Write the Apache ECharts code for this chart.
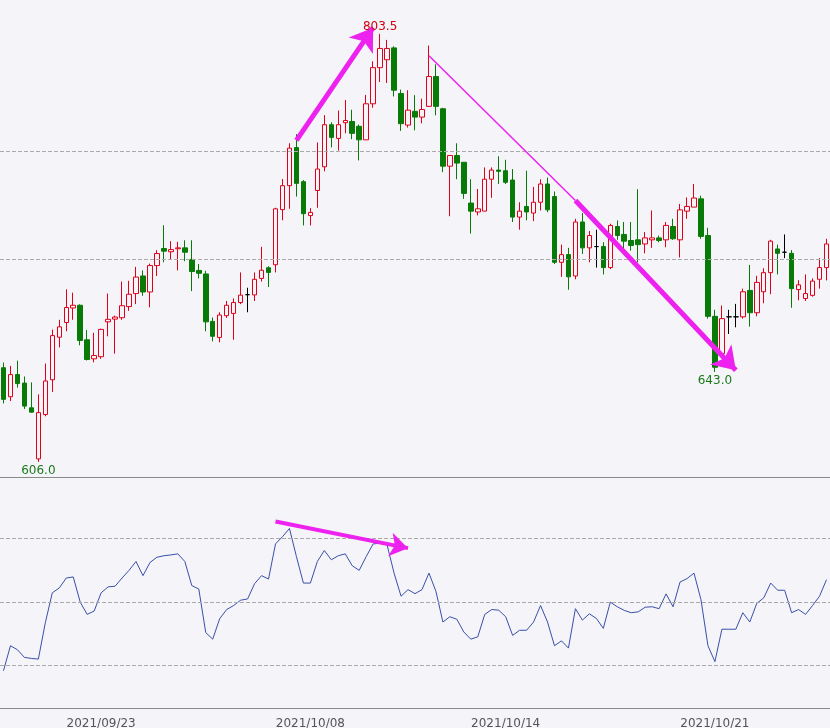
<!DOCTYPE html>
<html>
<head>
<meta charset="utf-8">
<script src="https://cdn.jsdelivr.net/npm/echarts@6/dist/echarts.min.js"></script>
<style>
	html, body { margin: 0; padding: 0; background: #f4f4f9; }
	#chart { width: 830px; height: 728px; }
</style>
</head>
<body>
<div id="chart"></div>
<script>
// [open, close, low, high]
const candles = [
	[644.8,631.5,629.8,647.0],[632.6,641.9,630.8,645.6],[641.9,638.1,636.4,647.8],[638.3,628.7,627.5,641.1],
	[628.0,626.2,626.0,638.6],[607.2,626.0,606.0,633.6],[625.2,639.2,624.5,646.6],[639.7,658.6,634.6,661.2],
	[657.9,662.4,653.5,665.5],[664.3,670.9,660.5,679.0],[670.7,671.9,665.5,677.5],[671.9,656.5,654.4,672.3],
	[656.8,648.3,647.9,661.0],[648.6,650.0,647.1,659.8],[649.5,661.3,648.6,661.6],[664.6,665.7,658.3,677.1],
	[665.8,666.7,650.8,667.3],[666.4,671.7,665.5,682.5],[671.3,676.8,669.4,682.8],[677.1,684.5,672.4,689.1],
	[685.0,677.8,676.1,687.5],[677.8,689.7,671.0,690.6],[689.7,695.2,685.0,696.7],[697.5,696.3,691.2,708.3],
	[696.0,697.0,692.5,700.9],[697.4,697.8,687.5,700.6],[697.8,695.8,691.7,701.3],[692.5,687.0,678.2,701.3],
	[687.5,686.2,683.9,690.4],[685.9,664.6,660.5,687.3],[664.8,658.3,656.1,666.5],[657.8,667.6,655.7,668.8],
	[667.3,671.9,666.3,673.8],[668.3,673.1,656.8,674.9],[673.1,676.4,672.4,686.6],[676.6,676.6,668.8,679.7],
	[676.5,683.5,673.8,686.6],[683.9,687.6,682.5,698.3],[688.7,686.6,680.0,689.4],[690.1,716.0,686.6,716.5],
	[715.6,727.0,710.6,730.2],[727.0,745.2,716.0,747.6],[745.5,728.1,721.8,752.1],[728.9,713.7,708.2,729.7],
	[712.8,714.3,708.2,716.3],[724.7,735.0,716.5,748.0],[736.1,756.8,733.9,761.6],[756.8,750.5,745.6,758.0],
	[750.0,756.8,744.0,763.9],[757.8,758.9,752.5,769.2],[758.4,752.5,749.6,764.3],[756.0,749.3,739.2,756.9],
	[749.3,767.3,749.3,771.8],[767.3,785.8,765.3,789.1],[785.8,795.8,778.4,803.5],[789.9,795.8,777.9,800.3],
	[796.1,774.2,771.0,796.9],[772.5,757.3,753.7,774.5],[756.6,764.1,755.4,774.2],[763.5,760.6,754.0,771.7],
	[760.6,764.4,757.5,769.9],[766.0,781.2,765.7,797.3],[781.2,766.0,761.5,787.5],[764.8,736.4,733.5,765.3],
	[736.4,741.6,712.5,741.6],[741.6,737.9,730.1,747.6],[738.3,723.3,720.7,738.3],[718.7,714.9,704.4,730.1],
	[714.5,716.0,712.9,725.4],[714.9,730.1,714.9,735.8],[730.1,734.5,721.2,735.8],[734.5,733.9,727.8,741.2],
	[734.2,728.6,727.8,739.5],[729.7,712.1,709.8,735.0],[712.1,714.9,706.2,719.1],[717.1,714.5,710.6,734.2],
	[714.0,719.1,710.2,726.4],[719.1,727.8,715.2,730.1],[727.8,715.5,714.4,730.9],[721.8,691.2,690.4,724.2],
	[691.2,694.7,684.6,699.3],[694.7,684.6,678.8,697.8],[685.0,709.8,683.5,711.3],[709.8,697.8,695.0,714.0],
	[697.8,703.5,691.2,705.6],[698.4,698.4,688.8,706.2],[698.4,688.8,685.7,700.4],[688.8,708.2,688.1,709.0],
	[707.7,703.5,701.5,710.5],[704.0,700.9,695.8,709.8],[701.2,698.9,696.5,709.8],[701.5,699.3,691.2,725.3],
	[699.6,702.4,695.3,705.1],[701.5,702.4,697.8,715.2],[702.4,701.2,700.4,703.5],[701.5,708.2,698.1,709.8],
	[707.7,702.0,701.5,711.3],[701.5,715.5,693.4,718.3],[714.9,717.1,711.3,721.4],[716.8,721.1,716.8,727.8],
	[720.7,703.1,702.0,722.2],[703.5,667.0,666.0,707.1],[667.0,645.0,643.0,669.9],[650.8,666.0,650.0,671.8],
	[666.8,666.8,659.3,669.9],[666.8,666.8,662.2,672.5],[666.8,677.9,666.0,679.3],[678.5,668.6,662.5,690.0],
	[668.6,682.1,667.0,685.1],[677.9,686.5,672.8,688.5],[686.5,700.9,676.8,701.5],[697.3,695.3,685.7,699.3],
	[695.8,695.8,693.1,704.0],[695.3,679.3,670.8,696.8],[678.9,681.0,674.1,683.1],[674.9,677.1,673.8,685.7],
	[676.3,682.7,675.7,683.9],[683.5,688.8,679.3,693.1],[688.8,699.6,683.0,702.0]
];
const osc = [
	17.5,29.3,27.4,23.8,23.3,23.0,40.2,54.3,56.6,61.3,61.8,49.9,44.1,45.7,54.3,57.1,57.4,61.3,64.9,69.1,
	62.4,68.6,71.1,71.8,72.2,72.7,69.1,57.7,56.1,35.5,32.4,42.1,46.4,48.3,50.8,51.4,58.6,62.4,60.8,77.4,
	80.8,84.7,71.4,58.9,58.9,69.1,74.3,69.9,71.8,72.7,67.1,64.9,71.4,77.4,77.7,76.9,63.6,52.7,55.8,53.9,
	55.8,63.6,55.0,40.5,43.0,41.8,35.8,32.4,33.5,44.1,46.4,46.1,43.0,34.2,36.6,36.6,40.5,48.3,40.5,29.3,
	31.6,28.2,46.8,41.4,44.4,42.2,37.5,49.9,47.7,46.0,44.9,45.3,47.5,47.7,46.8,53.8,47.7,59.4,61.0,63.6,
	51.1,29.3,21.8,37.1,37.1,37.1,44.9,40.5,49.3,51.9,58.9,55.5,55.5,44.9,46.4,44.1,48.3,52.7,60.5
];
const tickIdx = [14, 44, 72, 102];
const tickLabels = ["2021/09/23", "2021/10/08", "2021/10/14", "2021/10/21"];
const priceGrid = [692.8, 743.7];
const oscGrid = [20, 50, 80];
const dojiIdx = [35, 85, 104, 105, 112];

const categories = candles.map((c, i) => String(i));
const UP = "#e0001a", DOWN = "#087a08", ARROW = "#ee22ee";
const dash = { color: "#aaaaaa", type: "dashed", width: 1 };

const chart = echarts.init(document.getElementById("chart"));
chart.setOption({
	animation: false,
	backgroundColor: "#f4f4f9",
	grid: [
		{ left: 0, right: 0, top: 3, height: 474, outerBoundsMode: "none", containLabel: false },
		{ left: 0, right: 0, top: 477, height: 235, outerBoundsMode: "none", containLabel: false }
	],
	xAxis: [
		{ type: "category", data: categories, gridIndex: 0, boundaryGap: true,
			axisLine: { lineStyle: { color: "#8a8a8a" } }, axisTick: { show: false }, axisLabel: { show: false } },
		{ type: "category", data: categories, gridIndex: 1, boundaryGap: true,
			axisLine: { lineStyle: { color: "#8a8a8a" } }, axisTick: { show: false },
			axisLabel: {
				color: "#555", fontSize: 12, fontFamily: "DejaVu Sans", margin: 6,
				interval: (i) => tickIdx.includes(i),
				formatter: (v, i) => tickLabels[tickIdx.indexOf(i)] || ""
			} }
	],
	yAxis: [
		{ type: "log", logBase: 10, min: 600, max: 820, gridIndex: 0, show: false },
		{ type: "value", min: -2, max: 109, gridIndex: 1, show: false }
	],
	series: [
		{
			type: "candlestick", xAxisIndex: 0, yAxisIndex: 0, barWidth: 5,
			data: candles.map((c, i) => dojiIdx.includes(i)
				? { value: c, itemStyle: { color: "#000", color0: "#000", borderColor: "#000", borderColor0: "#000" } }
				: c),
			itemStyle: { color: "#f4f4f9", color0: DOWN, borderColor: UP, borderColor0: DOWN, borderWidth: 1 },
			markLine: {
				silent: true, symbol: "none", label: { show: false },
				data: priceGrid.map(v => ({ yAxis: v, lineStyle: dash }))
					.concat([
						[{ coord: [42, 749], symbol: "none", lineStyle: { color: ARROW, width: 5, type: "solid" } },
						 { coord: [53, 806.8], symbol: "arrow", symbolSize: 22 }],
						[{ coord: [61, 792], symbol: "none", lineStyle: { color: ARROW, width: 1.5, type: "solid" } },
						 { coord: [82, 719.9], symbol: "none" }],
						[{ coord: [82, 719.9], symbol: "none", lineStyle: { color: ARROW, width: 5, type: "solid" } },
						 { coord: [105, 643.7], symbol: "arrow", symbolSize: 22 }]
					])
			},
			markPoint: {
				symbol: "circle", symbolSize: 1, itemStyle: { color: "transparent" },
				label: { fontSize: 12, fontFamily: "DejaVu Sans" },
				data: [
					{ coord: [54, 803.5], label: { formatter: "803.5", color: "#d00010", position: "top", distance: 0 } },
					{ coord: [5, 606], label: { formatter: "606.0", color: "#1a7a1a", position: "bottom", distance: 2 } },
					{ coord: [102, 643], label: { formatter: "643.0", color: "#1a7a1a", position: "bottom", distance: 2 } }
				]
			}
		},
		{
			type: "line", xAxisIndex: 1, yAxisIndex: 1, data: osc, symbol: "none",
			lineStyle: { color: "#3a50a8", width: 1 },
			markLine: {
				silent: true, symbol: "none", label: { show: false },
				data: oscGrid.map(v => ({ yAxis: v, lineStyle: dash }))
					.concat([
						[{ coord: [39, 88], symbol: "none", lineStyle: { color: ARROW, width: 4, type: "solid" } },
						 { coord: [58, 75.4], symbol: "arrow", symbolSize: 18 }]
					])
			}
		}
	]
});
</script>
</body>
</html>
